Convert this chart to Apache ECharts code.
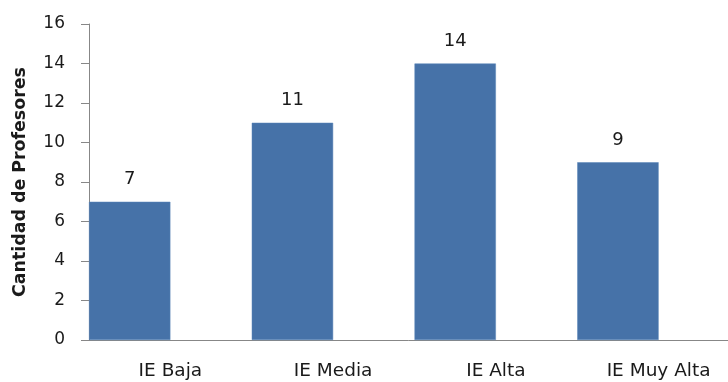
<!DOCTYPE html>
<html>
<head>
<meta charset="utf-8">
<script src="https://cdn.jsdelivr.net/npm/echarts@6/dist/echarts.min.js"></script>
<style>
html,body{margin:0;padding:0;background:#fff;}
#chart{width:728px;height:382px;}
</style>
</head>
<body>
<div id="chart"></div>
<script>
var categories = ['IE Baja', 'IE Media', 'IE Alta', 'IE Muy Alta'];
var profesores = [7, 11, 14, 9];
var yAxisTitle = 'Cantidad de Profesores';
var yTicks = [0, 2, 4, 6, 8, 10, 12, 14, 16];

var chart = echarts.init(document.getElementById('chart'), null, {renderer: 'canvas'});
var font = '"DejaVu Sans", sans-serif';
chart.setOption({
  animation: false,
  grid: {left: 89, width: 651, top: 24, height: 316, containLabel: false, outerBoundsMode: 'none'},
  xAxis: {
    type: 'category',
    data: categories,
    axisLine: {lineStyle: {color: '#878787', width: 1}},
    axisTick: {show: false},
    axisLabel: {color: '#1a1a1a', fontSize: 18.5, fontFamily: font, margin: 22}
  },
  yAxis: {
    type: 'value',
    min: yTicks[0],
    max: yTicks[yTicks.length - 1],
    interval: 2,
    name: yAxisTitle,
    nameLocation: 'middle',
    nameGap: 60,
    nameTextStyle: {color: '#1a1a1a', fontSize: 17.4, fontWeight: 'bold', fontFamily: font},
    axisLine: {show: true, lineStyle: {color: '#878787', width: 1}},
    axisTick: {show: true, length: 8, lineStyle: {color: '#878787'}},
    axisLabel: {color: '#1a1a1a', fontSize: 17, fontFamily: font, margin: 24},
    splitLine: {show: false}
  },
  series: [
    {
      type: 'bar',
      data: profesores,
      barGap: '0%',
      barCategoryGap: '0%',
      itemStyle: {color: '#4672A8', borderColor: '#5B86B8', borderWidth: 0.5},
      label: {show: true, position: 'top', distance: 13, color: '#1a1a1a', fontSize: 18, fontFamily: font}
    },
    {
      type: 'bar',
      data: categories.map(function(){ return '-'; }),
      barGap: '0%',
      barCategoryGap: '0%',
      silent: true
    }
  ]
});
</script>
</body>
</html>
